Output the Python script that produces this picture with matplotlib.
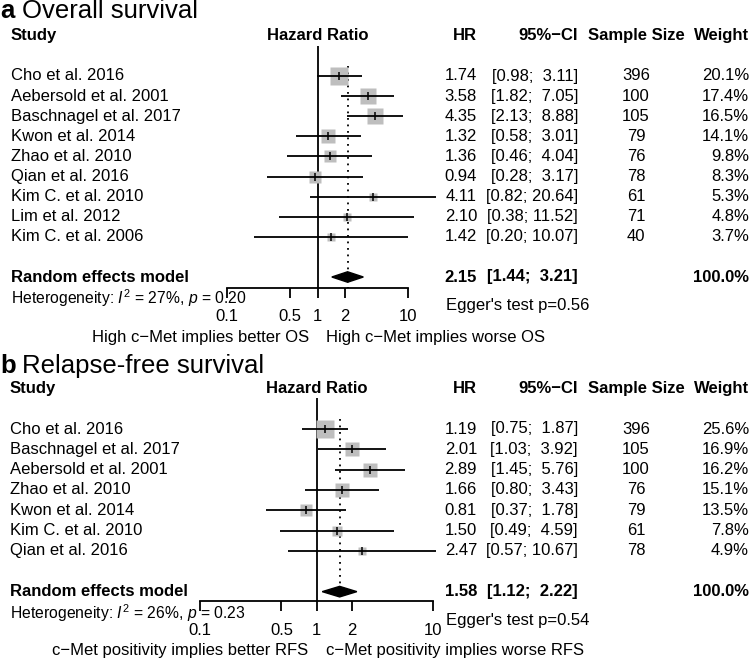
import numpy as np
import matplotlib
matplotlib.use("Agg")
import matplotlib.pyplot as plt
from matplotlib.transforms import blended_transform_factory

plt.rcParams['font.family'] = ['Liberation Sans', 'DejaVu Sans']
plt.rcParams['mathtext.fontset'] = 'custom'
plt.rcParams['mathtext.rm'] = 'Liberation Sans'
plt.rcParams['mathtext.it'] = 'Liberation Sans:italic'
plt.rcParams['mathtext.bf'] = 'Liberation Sans:bold'

# a: overall survival
os_study = ['Cho et al. 2016', 'Aebersold et al. 2001', 'Baschnagel et al. 2017',
            'Kwon et al. 2014', 'Zhao et al. 2010', 'Qian et al. 2016',
            'Kim C. et al. 2010', 'Lim et al. 2012', 'Kim C. et al. 2006']
os_hr = [1.74, 3.58, 4.35, 1.32, 1.36, 0.94, 4.11, 2.10, 1.42]
os_lo = [0.98, 1.82, 2.13, 0.58, 0.46, 0.28, 0.82, 0.38, 0.20]
os_hi = [3.11, 7.05, 8.88, 3.01, 4.04, 3.17, 20.64, 11.52, 10.07]
os_n = [396, 100, 105, 79, 76, 78, 61, 71, 40]
os_w = [20.1, 17.4, 16.5, 14.1, 9.8, 8.3, 5.3, 4.8, 3.7]
os_pooled = (2.15, 1.44, 3.21)
os_het = r'Heterogeneity: $I^2$ = 27%, $p$ = 0.20'
os_egger = "Egger's test p=0.56"
os_foot = ('High c\u2212Met implies better OS', 'High c\u2212Met implies worse OS')

# b: relapse-free survival
rfs_study = ['Cho et al. 2016', 'Baschnagel et al. 2017', 'Aebersold et al. 2001',
             'Zhao et al. 2010', 'Kwon et al. 2014', 'Kim C. et al. 2010', 'Qian et al. 2016']
rfs_hr = [1.19, 2.01, 2.89, 1.66, 0.81, 1.50, 2.47]
rfs_lo = [0.75, 1.03, 1.45, 0.80, 0.37, 0.49, 0.57]
rfs_hi = [1.87, 3.92, 5.76, 3.43, 1.78, 4.59, 10.67]
rfs_n = [396, 105, 100, 76, 79, 61, 78]
rfs_w = [25.6, 16.9, 16.2, 15.1, 13.5, 7.8, 4.9]
rfs_pooled = (1.58, 1.12, 2.22)
rfs_het = r'Heterogeneity: $I^2$ = 26%, $p$ = 0.23'
rfs_egger = "Egger's test p=0.54"
rfs_foot = ('c\u2212Met positivity implies better RFS', 'c\u2212Met positivity implies worse RFS')

xticks = [0.1, 0.5, 1, 2, 10]

W, H = 750, 661
fig = plt.figure(figsize=(W / 100, H / 100), dpi=100)
FS = 12


def ci_text(lo, hi):
    pad = '  ' if hi < 10 else ' '
    return f'[{lo:.2f};{pad}{hi:.2f}]'


def forest(px_left, px_right, px_top, px_axis, px_row0, step, letter, title, title_y, study_x,
           study, hr, lo, hi, n, w, pooled, het, egger, foot):
    k = len(study)
    ymin = (px_top - px_row0) / step
    ymax = (px_axis - px_row0) / step
    ax = fig.add_axes([px_left / W, 1 - px_axis / H, (px_right - px_left) / W, (px_axis - px_top) / H])
    ax.set_xscale('log')
    ax.set_xlim(0.1, 10)
    ax.set_ylim(ymax, ymin)
    for s in ['top', 'right', 'left']:
        ax.spines[s].set_visible(False)
    ax.spines['bottom'].set_linewidth(1.3)
    ax.set_yticks([])
    ax.set_xticks(xticks)
    ax.set_xticklabels([f'{t:g}' for t in xticks], fontsize=FS)
    ax.minorticks_off()
    ax.tick_params(axis='x', length=7.5, width=1.3, pad=8)
    ax.patch.set_alpha(0)

    rows = np.arange(k)
    summ = k + 1
    ax.axvline(1, color='black', lw=1.3, zorder=2)
    ax.plot([pooled[0], pooled[0]], [-0.5, ymax], color='black', lw=1.3,
            linestyle=(0, (1, 2.6)), zorder=1)
    size = 12.6 * np.sqrt(np.array(w) / max(w))
    for i in rows:
        ax.plot([lo[i], hi[i]], [i, i], color='black', lw=1.3, zorder=4, clip_on=False,
                solid_capstyle='butt')
        ax.plot(hr[i], i, marker='s', ms=size[i], color='#BEBEBE', mec='none', zorder=3, clip_on=False)
        ax.plot(hr[i], i, marker='|', ms=6, mew=1.1, color='black', zorder=5, clip_on=False)
    ax.fill([pooled[1], pooled[0], pooled[2], pooled[0]],
            [summ, summ - 0.26, summ, summ + 0.26], color='black', zorder=4, clip_on=False)

    tr = blended_transform_factory(fig.transFigure, ax.transData)

    def fx(px):
        return px / W

    # header
    ax.text(fx(study_x), -2, 'Study', transform=tr, fontsize=FS, fontweight='bold', va='center')
    ax.text(1, -2, 'Hazard Ratio', fontsize=FS, fontweight='bold', va='center', ha='center',
            transform=blended_transform_factory(ax.transData, ax.transData), clip_on=False)
    ax.text(fx(477), -2, 'HR', transform=tr, fontsize=FS, fontweight='bold', va='center', ha='right')
    ax.text(fx(578), -2, '95%\u2212CI', transform=tr, fontsize=FS, fontweight='bold', va='center', ha='right')
    ax.text(fx(636), -2, 'Sample Size', transform=tr, fontsize=FS, fontweight='bold', va='center', ha='center')
    ax.text(fx(749), -2, 'Weight', transform=tr, fontsize=FS, fontweight='bold', va='center', ha='right')

    for i in rows:
        ax.text(fx(study_x), i, study[i], transform=tr, fontsize=FS, va='center')
        ax.text(fx(477), i, f'{hr[i]:.2f}', transform=tr, fontsize=FS, va='center', ha='right')
        ax.text(fx(578), i, ci_text(lo[i], hi[i]), transform=tr, fontsize=FS, va='center', ha='right')
        ax.text(fx(636), i, str(n[i]), transform=tr, fontsize=FS, va='center', ha='center')
        ax.text(fx(749), i, f'{w[i]:.1f}%', transform=tr, fontsize=FS, va='center', ha='right')

    ax.text(fx(study_x), summ, 'Random effects model', transform=tr, fontsize=FS,
            fontweight='bold', va='center')
    ax.text(fx(477), summ, f'{pooled[0]:.2f}', transform=tr, fontsize=FS, fontweight='bold',
            va='center', ha='right')
    ax.text(fx(578), summ, ci_text(pooled[1], pooled[2]), transform=tr, fontsize=FS,
            fontweight='bold', va='center', ha='right')
    ax.text(fx(749), summ, '100.0%', transform=tr, fontsize=FS, fontweight='bold',
            va='center', ha='right')
    ax.text(fx(study_x), k + 2.05, het, transform=tr, fontsize=11.3, va='center')
    ax.text(fx(446), k + 2.4, egger, transform=tr, fontsize=FS, va='center')

    ax.annotate(foot[0], xy=(1, 0), xycoords=('data', 'axes fraction'), xytext=(-8, -50),
                textcoords='offset pixels', ha='right', va='center', fontsize=FS)
    ax.annotate(foot[1], xy=(1, 0), xycoords=('data', 'axes fraction'), xytext=(9, -50),
                textcoords='offset pixels', ha='left', va='center', fontsize=FS)

    fig.text(0.0, 1 - title_y / H, letter, fontsize=18.5, fontweight='bold', va='baseline')
    fig.text(21.5 / W, 1 - title_y / H, title, fontsize=18.5, va='baseline')
    return ax


forest(227, 408, 46, 287.5, 76, 20.1, 'a', 'Overall survival', 18, 11,
       os_study, os_hr, os_lo, os_hi, os_n, os_w, os_pooled, os_het, os_egger, os_foot)
forest(200, 433, 398, 601, 429, 20.33, 'b', 'Relapse-free survival', 373, 9.5,
       rfs_study, rfs_hr, rfs_lo, rfs_hi, rfs_n, rfs_w, rfs_pooled, rfs_het, rfs_egger, rfs_foot)

fig.savefig('out.png', dpi=100)
